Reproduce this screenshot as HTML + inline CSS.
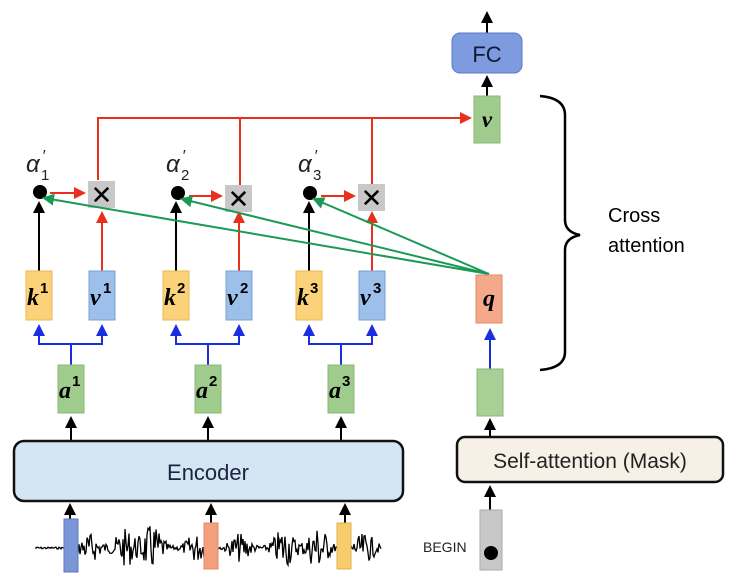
<!DOCTYPE html>
<html><head><meta charset="utf-8"><style>
body{margin:0;background:#fff;}
svg{display:block;}
text{font-family:"Liberation Sans",sans-serif;}
.m{font-family:"Liberation Serif",serif;font-weight:bold;font-style:italic;}
</style></head><body>
<svg width="740" height="581" viewBox="0 0 740 581" xmlns="http://www.w3.org/2000/svg">
<defs>
<marker id="ak" markerWidth="6" markerHeight="6" refX="5" refY="3" orient="auto"><path d="M0,0L6,3L0,6z" fill="#000"/></marker>
<marker id="ar" markerWidth="6" markerHeight="6" refX="5" refY="3" orient="auto"><path d="M0,0L6,3L0,6z" fill="#e8301c"/></marker>
<marker id="ab" markerWidth="6" markerHeight="6" refX="5" refY="3" orient="auto"><path d="M0,0L6,3L0,6z" fill="#1a2ee0"/></marker>
<marker id="ag" markerWidth="6" markerHeight="6" refX="5" refY="3" orient="auto"><path d="M0,0L6,3L0,6z" fill="#1a9a55"/></marker>
</defs>
<line x1="487" y1="33" x2="487" y2="13" stroke="#000" stroke-width="2" marker-end="url(#ak)"/>
<rect x="452" y="33" width="70" height="40" rx="8" fill="#7f9be0" stroke="#5a78c8"/>
<text x="487" y="62" font-size="22" text-anchor="middle" fill="#111a33">FC</text>
<line x1="487" y1="96" x2="487" y2="77" stroke="#000" stroke-width="2" marker-end="url(#ak)"/>
<rect x="474" y="96" width="26" height="47" fill="#9fcc8c" stroke="#8ab877"/>
<text x="487" y="127" font-size="23" class="m" text-anchor="middle">v</text>
<polyline points="98,180 98,118 470,118" fill="none" stroke="#e8301c" stroke-width="2" marker-end="url(#ar)"/>
<line x1="240" y1="118" x2="240" y2="185" stroke="#e8301c" stroke-width="2"/>
<line x1="372" y1="118" x2="372" y2="184" stroke="#e8301c" stroke-width="2"/>
<path d="M540,96 Q565,98 565,115 L565,220 Q565,232 580,235 Q565,238 565,250 L565,352 Q565,368 540,370" fill="none" stroke="#000" stroke-width="2.5"/>
<text x="608" y="222" font-size="20">Cross</text>
<text x="608" y="252" font-size="20">attention</text>
<g font-family="Liberation Serif,serif" font-style="italic" font-size="24" fill="#222">
<text x="26" y="172">α</text><text x="42" y="161" font-size="16">′</text><text x="41" y="180" font-size="15" font-style="normal">1</text>
<text x="166" y="172">α</text><text x="182" y="161" font-size="16">′</text><text x="181" y="180" font-size="15" font-style="normal">2</text>
<text x="298" y="172">α</text><text x="314" y="161" font-size="16">′</text><text x="313" y="180" font-size="15" font-style="normal">3</text>
</g>
<g id="cols"></g>
<g>
<circle cx="40" cy="192" r="7" fill="#000"/><circle cx="178" cy="193" r="7" fill="#000"/><circle cx="310" cy="193" r="7" fill="#000"/>
<line x1="50" y1="193" x2="84" y2="193" stroke="#e8301c" stroke-width="2" marker-end="url(#ar)"/>
<line x1="189" y1="196" x2="221" y2="196" stroke="#e8301c" stroke-width="2" marker-end="url(#ar)"/>
<line x1="321" y1="196" x2="354" y2="196" stroke="#e8301c" stroke-width="2" marker-end="url(#ar)"/>
<rect x="88" y="181" width="27" height="27" fill="#c8c8c8"/><text x="101.5" y="204" font-size="26" text-anchor="middle">✕</text>
<rect x="225" y="185" width="27" height="27" fill="#c8c8c8"/><text x="238.5" y="208" font-size="26" text-anchor="middle">✕</text>
<rect x="358" y="184" width="27" height="27" fill="#c8c8c8"/><text x="371.5" y="207" font-size="26" text-anchor="middle">✕</text>
</g>
<g stroke="#1a9a55" stroke-width="2" fill="none">
<line x1="489" y1="274" x2="44" y2="198" marker-end="url(#ag)"/>
<line x1="489" y1="274" x2="182" y2="199" marker-end="url(#ag)"/>
<line x1="489" y1="274" x2="314" y2="199" marker-end="url(#ag)"/>
</g>
<rect x="476" y="275" width="26" height="48" fill="#f4a98a" stroke="#e08a6a"/>
<text x="489" y="306" font-size="24" class="m" text-anchor="middle">q</text>
<line x1="490" y1="369" x2="490" y2="330" stroke="#1a2ee0" stroke-width="2" marker-end="url(#ab)"/>
<rect x="477" y="369" width="26" height="47" fill="#a8d096" stroke="#8ab877"/>
<line x1="490" y1="436" x2="490" y2="420" stroke="#000" stroke-width="2" marker-end="url(#ak)"/>
<rect x="14" y="441" width="389" height="60" rx="10" fill="#d4e6f4" stroke="#111" stroke-width="2.5"/>
<text x="208" y="480" font-size="22" text-anchor="middle" fill="#1a2440">Encoder</text>
<rect x="457" y="437" width="266" height="45" rx="8" fill="#f6f0e6" stroke="#111" stroke-width="2.5"/>
<text x="590" y="468" font-size="21" text-anchor="middle" fill="#222">Self-attention (Mask)</text>
<line x1="490" y1="510" x2="490" y2="487" stroke="#000" stroke-width="2" marker-end="url(#ak)"/>
<rect x="480" y="510" width="22" height="60" fill="#c8c8c8" stroke="#aaa"/>
<circle cx="491" cy="553" r="7" fill="#000"/>
<text x="423" y="552" font-size="14" fill="#222">BEGIN</text>
<path id="wave" d="" fill="none" stroke="#000" stroke-width="1.3"/>
<line x1="70" y1="519" x2="70" y2="505" stroke="#000" stroke-width="2" marker-end="url(#ak)"/>
<line x1="211" y1="523" x2="211" y2="505" stroke="#000" stroke-width="2" marker-end="url(#ak)"/>
<line x1="345" y1="523" x2="345" y2="505" stroke="#000" stroke-width="2" marker-end="url(#ak)"/>
<rect x="64" y="519" width="14" height="53" fill="#7a96d6" stroke="#5a78c0"/>
<rect x="204" y="523" width="14" height="46" fill="#f4a07c" stroke="#e08a6a"/>
<rect x="337" y="523" width="14" height="46" fill="#f8cc6a" stroke="#e0b050"/>
</svg>
<script>
var ns="http://www.w3.org/2000/svg",g=document.getElementById("cols");
function el(t,a,txt){var e=document.createElementNS(ns,t);for(var k in a)e.setAttribute(k,a[k]);if(txt)e.textContent=txt;g.appendChild(e);return e;}
var C=[{k:26,v:89,a:58,n:"1"},{k:163,v:226,a:195,n:"2"},{k:296,v:359,a:328,n:"3"}];
C.forEach(function(c){
 el("line",{x1:c.k+13,y1:271,x2:c.k+13,y2:203,stroke:"#000","stroke-width":2,"marker-end":"url(#ak)"});
 el("line",{x1:c.v+13,y1:271,x2:c.v+13,y2:213,stroke:"#e8301c","stroke-width":2,"marker-end":"url(#ar)"});
 el("rect",{x:c.k,y:271,width:26,height:49,fill:"#fbd27a",stroke:"#e8b850"});
 el("rect",{x:c.v,y:271,width:26,height:49,fill:"#9cc0ea",stroke:"#7aa0d0"});
 el("text",{x:c.k+1,y:305,"font-size":24,"class":"m"},"k");el("text",{x:c.k+14,y:293,"font-size":15,"font-weight":"bold","font-family":"Liberation Serif"},c.n);
 el("text",{x:c.v+1,y:305,"font-size":24,"class":"m"},"v");el("text",{x:c.v+14,y:293,"font-size":15,"font-weight":"bold","font-family":"Liberation Serif"},c.n);
 el("polyline",{points:(c.k+13)+",327 "+(c.k+13)+",344 "+(c.v+13)+",344 "+(c.v+13)+",327",fill:"none",stroke:"#1a2ee0","stroke-width":2});
 el("line",{x1:c.k+13,y1:340,x2:c.k+13,y2:326,stroke:"#1a2ee0","stroke-width":2,"marker-end":"url(#ab)"});
 el("line",{x1:c.v+13,y1:340,x2:c.v+13,y2:326,stroke:"#1a2ee0","stroke-width":2,"marker-end":"url(#ab)"});
 el("line",{x1:c.a+13,y1:344,x2:c.a+13,y2:365,stroke:"#1a2ee0","stroke-width":2});
 el("rect",{x:c.a,y:365,width:26,height:48,fill:"#9fcc8c",stroke:"#8ab877"});
 el("text",{x:c.a+1,y:398,"font-size":24,"class":"m"},"a");el("text",{x:c.a+14,y:386,"font-size":15,"font-weight":"bold","font-family":"Liberation Serif"},c.n);
 el("line",{x1:c.a+13,y1:440,x2:c.a+13,y2:418,stroke:"#000","stroke-width":2,"marker-end":"url(#ak)"});
});
var s=7,d="M35,548";function r(){s=(s*9301+49297)%233280;return s/233280;}
var bursts=[[90,14],[125,18],[152,22],[196,14],[240,14],[284,20],[318,22],[365,14]];
for(var x=35;x<382;x+=1.0){var env=1.0;bursts.forEach(function(b){env+=b[1]*Math.exp(-Math.pow((x-b[0])/12,2));});
 var a=(r()-0.5)*2*env;d+=" L"+x.toFixed(1)+","+(548+a).toFixed(1);}
document.getElementById("wave").setAttribute("d",d);
</script>
</body></html>
